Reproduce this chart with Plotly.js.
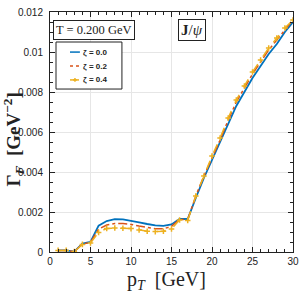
<!DOCTYPE html>
<html><head><meta charset="utf-8">
<script src="https://cdn.plot.ly/plotly-3.0.1.min.js"></script>
<style>html,body{margin:0;padding:0;background:#fff}#c{width:300px;height:300px}</style>
</head><body><div id="c"></div>
<script>
var pT = [1,2,3,4,5,6,7,8,9,10,11,12,13,14,15,16,17,18,19,20,21,22,23,24,25,26,27,28,29,30];
var zeta00 = [0.00008,0.00008,0.00002,0.00042,0.0005,0.00132,0.00155,0.00164,0.00163,0.00157,0.00148,0.0014,0.00133,0.00131,0.00138,0.00166,0.00165,0.0027,0.0037,0.0046,0.0055,0.0064,0.0073,0.0080,0.0087,0.0093,0.0099,0.0104,0.0110,0.0115];
var zeta02 = [0.00008,0.00008,0.00002,0.0004,0.00048,0.00115,0.00135,0.00142,0.00142,0.00138,0.0013,0.00122,0.00116,0.00116,0.00128,0.00163,0.00162,0.0028,0.0038,0.0047,0.0056,0.0066,0.0075,0.0082,0.0089,0.0095,0.0101,0.0106,0.0111,0.0116];
var zeta04 = [0.00008,0.00008,0.00002,0.00038,0.00045,0.00098,0.00118,0.0012,0.00119,0.00117,0.0011,0.00104,0.00102,0.00104,0.00115,0.0016,0.00158,0.0028,0.0038,0.0048,0.0057,0.0067,0.0076,0.0083,0.0090,0.0096,0.0102,0.0107,0.0112,0.0116];
var names = ['ζ = 0.0','ζ = 0.2','ζ = 0.4'];
var colors = ['#0072BD','#D95319','#EDB120'];
var dashes = ['solid','dashdot','dash'];
var xTicks = [0,5,10,15,20,25,30];
var yTicks = [0,0.002,0.004,0.006,0.008,0.01,0.012];
var yTickText = ['0','0.002','0.004','0.006','0.008','0.01','0.012'];

var serif = '"Liberation Serif", "DejaVu Serif", serif';
var narrow = '"Liberation Sans Narrow", "Arial Narrow", Arial, sans-serif';
var tickFont = {family:narrow, size:10, color:'#222'};
var ys = [zeta00, zeta02, zeta04];
var traces = ys.map(function(y, i){
  var t = {x:pT, y:y, name:names[i], mode:'lines', showlegend:false,
    line:{color:colors[i], width:(i===0?1.8:1.5), dash:dashes[i]}};
  if (i===2) { t.mode = 'lines+markers';
    t.marker = {symbol:'cross-thin', size:4, color:colors[i], line:{color:colors[i], width:1.5}}; }
  return t;
});

// legend drawn as a boxed key in paper coordinates
var shapes = [{type:'rect', xref:'paper', yref:'paper', x0:0.0247, x1:0.296, y0:0.679, y1:0.875,
  line:{color:'#222', width:1}, fillcolor:'#fff', layer:'above'}];
var annotations = [];
var legY = [0.833, 0.775, 0.717];
names.forEach(function(n, i){
  shapes.push({type:'line', xref:'paper', yref:'paper', x0:0.0823, x1:0.123, y0:legY[i], y1:legY[i],
    line:{color:colors[i], width:1.5, dash:(i===0?'solid':(i===1?'dot':'dash'))}, layer:'above'});
  if (i===2) {
    var cx = 0.1027;
    shapes.push({type:'line', xref:'paper', yref:'paper', x0:cx-0.008, x1:cx+0.008, y0:legY[i], y1:legY[i], line:{color:colors[i], width:1.5}, layer:'above'});
    shapes.push({type:'line', xref:'paper', yref:'paper', x0:cx, x1:cx, y0:legY[i]-0.008, y1:legY[i]+0.008, line:{color:colors[i], width:1.5}, layer:'above'});
  }
  annotations.push({xref:'paper', yref:'paper', x:0.127, y:legY[i], xanchor:'left', yanchor:'middle',
    showarrow:false, text:'<b>'+n+'</b>', font:{family:narrow, size:8, color:'#222'}});
});
annotations.push(
  {xref:'paper', yref:'paper', x:0.181, y:0.925, xanchor:'center', yanchor:'middle', showarrow:false,
   text:'T = 0.200 GeV', font:{family:serif, size:12.5, color:'#222'},
   bgcolor:'#fff', bordercolor:'#222', borderwidth:1, borderpad:2},
  {xref:'paper', yref:'paper', x:0.584, y:0.925, xanchor:'center', yanchor:'middle', showarrow:false,
   text:'<b>J</b>/<i>ψ</i>', font:{family:serif, size:15, color:'#222'},
   bgcolor:'#fff', bordercolor:'#222', borderwidth:1, borderpad:2},
  {xref:'paper', yref:'paper', x:0.479, y:-0.117, xanchor:'center', yanchor:'middle', showarrow:false,
   text:'p<i><sub>T</sub></i>&nbsp;&nbsp;[GeV]', font:{family:serif, size:20, color:'#222'}},
  {xref:'paper', yref:'paper', x:-0.15, y:0.467, xanchor:'center', yanchor:'middle', showarrow:false, textangle:-90,
   text:'<b>Γ<i><sub>F</sub></i>&nbsp;&nbsp;[GeV<sup>−2</sup>]</b>', font:{family:serif, size:19, color:'#222'}}
);

var axisCommon = {
  showline:true, linecolor:'#222', linewidth:1, mirror:'allticks',
  ticks:'inside', ticklen:5, tickcolor:'#222', tickwidth:1,
  showgrid:true, gridcolor:'#e6e6e6', gridwidth:1, zeroline:false,
  tickfont:tickFont
};
var layout = {
  width:300, height:300,
  margin:{l:50, r:7, t:12, b:48},
  paper_bgcolor:'#fff', plot_bgcolor:'#fff',
  showlegend:false,
  xaxis: Object.assign({}, axisCommon, {
    range:[0,30], tickmode:'array', tickvals:xTicks, ticktext:xTicks.map(String),
    minor:{dtick:1, ticks:'inside', ticklen:3, tickcolor:'#222', showgrid:false}
  }),
  yaxis: Object.assign({}, axisCommon, {
    range:[0,0.012], tickmode:'array', tickvals:yTicks, ticktext:yTickText,
    minor:{dtick:0.0005, ticks:'inside', ticklen:3, tickcolor:'#222', showgrid:false},
    ticklabelstandoff:4
  }),
  shapes:shapes,
  annotations:annotations
};
Plotly.newPlot('c', traces, layout, {staticPlot:true, displayModeBar:false});
</script></body></html>
